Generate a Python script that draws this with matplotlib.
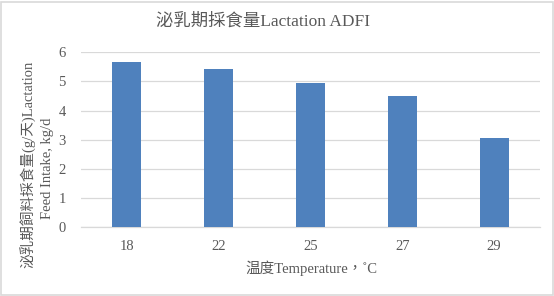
import matplotlib
matplotlib.use("Agg")
import matplotlib.pyplot as plt
from matplotlib.patches import Rectangle

# -- Data ---------------------------------------------------------------------
temperatures = ["18", "22", "25", "27", "29"]
adfi = [5.67, 5.43, 4.95, 4.50, 3.06]
y_ticks = [0, 1, 2, 3, 4, 5, 6]

# -- Style --------------------------------------------------------------------
FONT = ["Liberation Serif", "Noto Sans CJK TC", "DejaVu Sans"]
TEXT = "#595959"
GRID = "#d9d9d9"
BAR = "#4f81bd"
plt.rcParams["font.family"] = FONT

W, H = 554, 296
fig = plt.figure(figsize=(W / 100, H / 100), dpi=100)

# plot area in pixel coords: x 81..540, y 52.3..227.3 (from top)
ax = fig.add_axes([81 / W, (H - 227.3) / H, 459 / W, 175 / H])
ax.bar(range(len(adfi)), adfi, width=0.316, color=BAR, zorder=3)
ax.set_xlim(-0.5, len(adfi) - 0.5)
ax.set_ylim(0, 6)
ax.set_yticks(y_ticks)
ax.set_xticks(range(len(temperatures)))
ax.set_xticklabels(temperatures)
ax.grid(axis="y", color=GRID, linewidth=0.9, zorder=0)
for side in ("top", "right", "left"):
    ax.spines[side].set_visible(False)
ax.spines["bottom"].set_color(GRID)
ax.spines["bottom"].set_linewidth(0.9)
ax.tick_params(axis="both", length=0, labelsize=10.5, labelcolor=TEXT)
ax.tick_params(axis="y", pad=11)
ax.tick_params(axis="x", pad=9)

fig.text(263 / W, 1 - 21 / H, "泌乳期採食量Lactation ADFI", ha="center", va="center",
         fontsize=12.5, color=TEXT)
fig.text(311 / W, 1 - 268 / H, "温度Temperature，˚C", ha="center", va="center",
         fontsize=10.5, color=TEXT)
fig.text(28 / W, 1 - 164 / H, "泌乳期飼料採食量(g/天)Lactation", ha="center", va="center",
         rotation=90, fontsize=10.5, color=TEXT)
fig.text(47 / W, 1 - 168 / H, "Feed Intake, kg/d", ha="center", va="center",
         rotation=90, fontsize=10.5, color=TEXT)

fig.patches.append(Rectangle((0.8 / W, 1.5 / H), 552 / W, 293 / H, transform=fig.transFigure,
                             fill=False, edgecolor=GRID, linewidth=1.2))

fig.savefig("out.png", dpi=100)
